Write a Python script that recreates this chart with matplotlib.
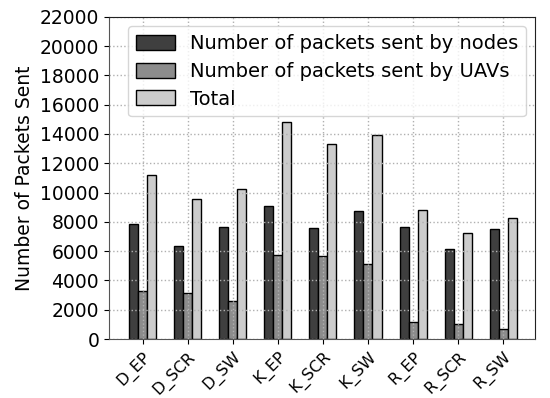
import numpy as np
from matplotlib import pyplot as plt

categories = ['D_EP', 'D_SCR', 'D_SW', 'K_EP', 'K_SCR', 'K_SW', 'R_EP', 'R_SCR', 'R_SW']
nodes = [7850, 6350, 7650, 9100, 7600, 8750, 7650, 6180, 7500]
uavs = [3300, 3170, 2580, 5750, 5700, 5120, 1150, 1060, 710]
total = [11180, 9550, 10210, 14830, 13280, 13900, 8830, 7250, 8250]

plt.rcParams['font.family'] = 'DejaVu Sans'

fig = plt.figure(figsize=(5.5, 3.98), dpi=100)
ax = fig.add_axes([0.198, 0.148, 0.775, 0.81])

x = np.arange(len(categories))
w = 0.2
ax.bar(x - w, nodes, w, color='#3f3f3f', edgecolor='black', linewidth=1,
       label='Number of packets sent by nodes')
ax.bar(x, uavs, w, color='#8c8c8c', edgecolor='black', linewidth=1,
       label='Number of packets sent by UAVs')
ax.bar(x + w, total, w, color='#cccccc', edgecolor='black', linewidth=1,
       label='Total')

ax.set_xlim(-0.75, 8.71)
ax.set_ylim(0, 22000)
ax.set_yticks(range(0, 22001, 2000))
ax.set_xticks(x)
ax.set_xticklabels(categories, rotation=45, ha='right', rotation_mode='anchor', fontsize=11.5)
ax.tick_params(axis='y', labelsize=13.5)
ax.set_ylabel('Number of Packets Sent', fontsize=13.5)
ax.grid(True, linestyle=':', color='#b0b0b0', linewidth=1)

for s in ['top', 'right']:
    ax.spines[s].set_color('#222222')
for s in ['left', 'bottom']:
    ax.spines[s].set_color('#555555')

ax.legend(loc='upper left', bbox_to_anchor=(0.045, 0.97), borderaxespad=0,
          fontsize=14, fancybox=True, framealpha=0.8, labelspacing=0.45,
          edgecolor='#cccccc', handlelength=2.0, handleheight=0.8)

fig.savefig('out.png')
